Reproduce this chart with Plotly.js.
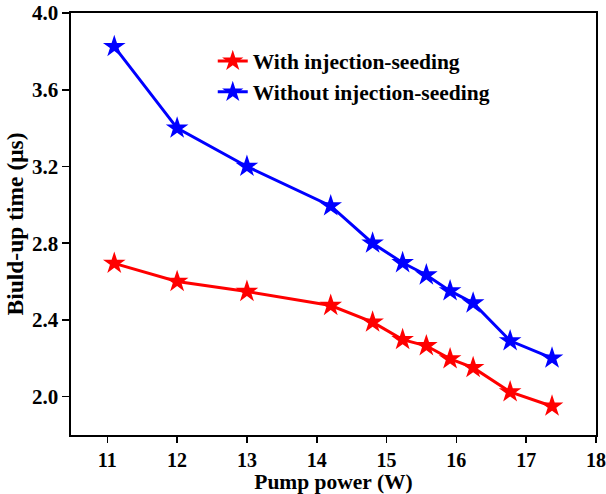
<!DOCTYPE html>
<html>
<head>
<meta charset="utf-8">
<script src="https://cdn.plot.ly/plotly-3.0.1.min.js"></script>
<style>html,body{margin:0;padding:0;background:#fff;}#chart{width:606px;height:494px;}</style>
</head>
<body>
<div id="chart"></div>
<script>
const pumpPower = [11.1, 12.0, 13.0, 14.2, 14.8, 15.23, 15.57, 15.91, 16.24, 16.77, 17.37];
const withSeeding = [2.695, 2.60, 2.548, 2.475, 2.388, 2.297, 2.265, 2.197, 2.151, 2.025, 1.95];
const withoutSeeding = [3.825, 3.40, 3.20, 2.994, 2.80, 2.698, 2.634, 2.551, 2.488, 2.291, 2.201];
const seriesNames = ["With injection-seeding", "Without injection-seeding"];
const xTicks = [11, 12, 13, 14, 15, 16, 17, 18];
const yTicks = [2.0, 2.4, 2.8, 3.2, 3.6, 4.0];

const font = {family: "Liberation Serif, Times New Roman, serif", color: "#000"};

const traces = [
  {x: pumpPower, y: withSeeding, name: seriesNames[0], mode: "lines+markers",
   line: {color: "#ff0000", width: 3}, marker: {symbol: "star", size: 17, color: "#ff0000"}},
  {x: pumpPower, y: withoutSeeding, name: seriesNames[1], mode: "lines+markers",
   line: {color: "#0000ff", width: 3}, marker: {symbol: "star", size: 17, color: "#0000ff"}}
];

const axisCommon = {
  showline: true, linecolor: "#000", linewidth: 1.6, mirror: true,
  ticks: "outside", ticklen: 7, tickwidth: 1.6, tickcolor: "#000",
  showgrid: false, zeroline: false, ticklabeloverflow: "allow",
  tickfont: {family: font.family, size: 21, color: "#000", weight: "bold"}
};

const layout = {
  width: 606, height: 494,
  margin: {l: 71, r: 10, t: 13, b: 59},
  paper_bgcolor: "#fff", plot_bgcolor: "#fff",
  font: font,
  showlegend: true,
  legend: {x: 0.27, y: 0.935, xanchor: "left", yanchor: "top", bgcolor: "rgba(0,0,0,0)",
           font: {family: font.family, size: 21.5, color: "#000", weight: "bold"}, tracegroupgap: 0},
  xaxis: Object.assign({}, axisCommon, {
    range: [10.48, 18], tickvals: xTicks, ticktext: xTicks.map(String), ticklen: 6,
    tickfont: {family: font.family, size: 20, color: "#000", weight: "bold"},
    title: {text: "Pump power (W)", standoff: 0, font: {family: font.family, size: 21.5, color: "#000", weight: "bold"}}
  }),
  yaxis: Object.assign({}, axisCommon, {
    range: [1.8, 4.0], tickvals: yTicks, ticktext: yTicks.map(v => v.toFixed(1)),
    title: {text: "Biuld-up time (μs)", standoff: 2, font: {family: font.family, size: 23.5, color: "#000", weight: "bold"}}
  })
};

Plotly.newPlot("chart", traces, layout, {displayModeBar: false, staticPlot: true});
</script>
</body>
</html>
